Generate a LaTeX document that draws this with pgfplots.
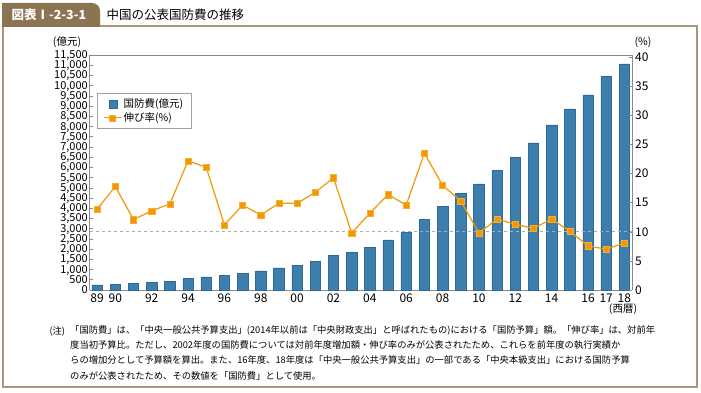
\documentclass[border=0pt]{standalone}
\usepackage{fontspec}
\setmainfont{Noto Sans CJK JP}
\usepackage{pgfplots}
\pgfplotsset{compat=1.18}
\definecolor{barblue}{HTML}{3E7EAC}
\definecolor{bardark}{HTML}{2C6A97}
\definecolor{lineor}{HTML}{F39800}
\definecolor{framec}{HTML}{A8977B}
\definecolor{tabc}{HTML}{8C7452}
\definecolor{axgray}{HTML}{8A8A8A}
\begin{document}
\begin{tikzpicture}
\begin{scope}[x=1pt,y=1pt]
\path[use as bounding box] (0,0) rectangle (701,392);
\fill[white] (0,0) rectangle (701,392);
% frame
\draw[framec, line width=1.6pt] (3,366) rectangle (697,5);
\fill[tabc] (2.2,365) -- (2.2,389) -- (92,389) to[out=0,in=90] (100,381) -- (100,365) -- cycle;
\node[anchor=west, text=white, font=\fontsize{12.5}{14}\selectfont\bfseries] at (8,377) {図表Ⅰ-2-3-1};
\node[anchor=west, font=\fontsize{12.5}{14}\selectfont] at (103,377) {中国の公表国防費の推移};
% units
\node[font=\fontsize{10.5}{12}\selectfont] at (67,350) {(億元)};
\node[font=\fontsize{10.5}{12}\selectfont] at (643,350) {(\%)};
\node[font=\fontsize{10.5}{12}\selectfont] at (623,83) {(西暦)};
% notes
\node[anchor=north west, font=\fontsize{9.3}{15}\selectfont] at (46,69) {(注)};
\node[anchor=north west, align=left, font=\fontsize{9.3}{15.2}\selectfont, inner sep=0pt] at (70,66.5) {%
「国防費」は、「中央一般公共予算支出」(2014年以前は「中央財政支出」と呼ばれたもの)における「国防予算」額。「伸び率」は、対前年\\
度当初予算比。ただし、2002年度の国防費については対前年度増加額・伸び率のみが公表されたため、これらを前年度の執行実績か\\
らの増加分として予算額を算出。また、16年度、18年度は「中央一般公共予算支出」の一部である「中央本級支出」における国防予算\\
のみが公表されたため、その数値を「国防費」として使用。};
\end{scope}
% bar axis
\begin{axis}[
  at={(89.5pt,102pt)}, anchor=south west,
  scale only axis, width=542.5pt, height=235pt,
  xmin=-0.42, xmax=29.42, ymin=0, ymax=11500,
  axis line style={axgray, line width=0.8pt},
  tick style={axgray, line width=0.6pt},
  tick align=inside, major tick length=3pt,
  ytick={0,500,...,11500},
  scaled y ticks=false,
  yticklabel style={font=\fontsize{11}{11}\selectfont, inner xsep=1.5pt, inner ysep=0pt, text height=7.6pt, text depth=0.6pt},
  /pgf/number format/assume math mode=true,
  /pgf/number format/1000 sep={,},
  xtick={0,1,3,5,7,9,11,13,15,17,19,21,23,25,27,28,29},
  xticklabels={89,90,92,94,96,98,00,02,04,06,08,10,12,14,16,17,18},
  xticklabel style={font=\fontsize{12}{12}\selectfont},
  x tick style={draw=none},
  extra x ticks={0.5,1.5,...,28.5},
  extra x tick labels={},
  extra x tick style={tick style={axgray, line width=0.6pt}, major tick length=3pt},
  axis y line*=left, axis x line*=bottom,
  clip=false,
]
\addplot[ybar, bar width=10.5pt, fill=barblue, draw=bardark, line width=0.5pt] coordinates {
(0,251) (1,290) (2,330) (3,378) (4,426) (5,551) (6,637) (7,716) (8,813) (9,935)
(10,1077) (11,1213) (12,1410) (13,1694) (14,1853) (15,2100) (16,2447) (17,2807) (18,3472) (19,4099)
(20,4729) (21,5191) (22,5836) (23,6503) (24,7202) (25,8082) (26,8869) (27,9543) (28,10444) (29,11070)};
\end{axis}
% line axis
\begin{axis}[
  at={(89.5pt,102pt)}, anchor=south west,
  scale only axis, width=542.5pt, height=235pt,
  xmin=-0.42, xmax=29.42, ymin=0, ymax=40.4,
  axis line style={axgray, line width=0.8pt},
  tick style={axgray, line width=0.6pt},
  tick align=inside, major tick length=3pt,
  ytick={0,5,...,40},
  scaled y ticks=false,
  yticklabel style={font=\fontsize{12}{12}\selectfont, inner xsep=3pt},
  /pgf/number format/assume math mode=true,
  axis y line*=right, axis x line*=top, xtick=\empty,
  legend style={at={(0.014,0.838)}, anchor=north west, draw=axgray!80, line width=0.6pt,
    font=\fontsize{10.5}{12}\selectfont, inner xsep=6pt, inner ysep=3.5pt, row sep=-0.5pt,
    cells={anchor=west}},
  legend cell align=left,
]
\addplot[axgray!70, dashed, line width=0.8pt, forget plot] coordinates {(-0.42,10) (29.42,10)};
\addlegendimage{legend image code/.code={\fill[barblue,draw=bardark,line width=0.4pt] (0.18cm,-0.13cm) rectangle (0.46cm,0.15cm);}}
\addlegendentry{国防費(億元)}
\addplot[lineor, line width=1.2pt, mark=square*, mark size=3.1pt, mark options={fill=lineor, draw=lineor!80!white, line width=0.4pt}] coordinates {
(0,13.9) (1,17.8) (2,12.1) (3,13.6) (4,14.8) (5,22.2) (6,21.1) (7,11.2) (8,14.6) (9,12.9)
(10,14.9) (11,14.9) (12,16.8) (13,19.3) (14,9.8) (15,13.2) (16,16.4) (17,14.6) (18,23.5) (19,18.0)
(20,15.3) (21,9.8) (22,12.2) (23,11.3) (24,10.6) (25,12.2) (26,10.1) (27,7.6) (28,7.0) (29,8.1)};
\addlegendentry{伸び率(\%)}
\end{axis}
\end{tikzpicture}
\end{document}
